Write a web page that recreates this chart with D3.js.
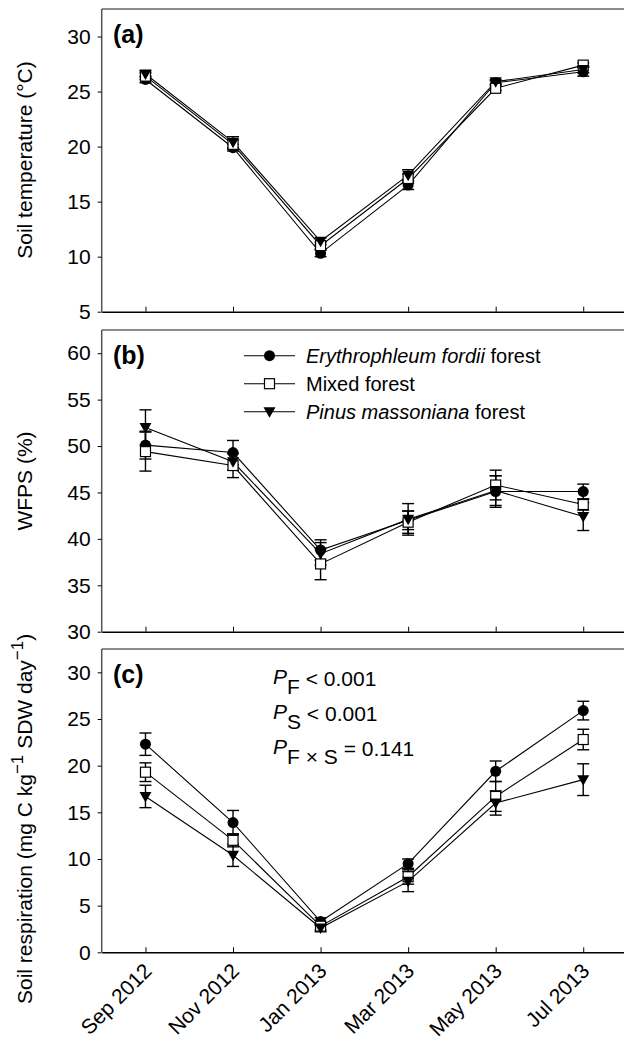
<!DOCTYPE html>
<html>
<head>
<meta charset="utf-8">
<script src="https://cdn.jsdelivr.net/npm/d3@7"></script>
<style>
  body { margin: 0; background: #fff; }
  svg { display: block; font-family: "Liberation Sans", Arial, Helvetica, sans-serif; }
</style>
</head>
<body>
<svg id="chart" width="624" height="1043"></svg>
<script>
var months = ["Sep 2012", "Nov 2012", "Jan 2013", "Mar 2013", "May 2013", "Jul 2013"];
var seriesNames = ["Erythrophleum fordii forest", "Mixed forest", "Pinus massoniana forest"];

// (a) soil temperature
var tempFordii   = [26.1, 19.9, 10.3, 16.5, 25.8, 26.8];
var tempFordiiSE = [0.3, 0.3, 0.3, 0.4, 0.2, 0.4];
var tempMixed    = [26.4, 20.2, 11.0, 17.1, 25.3, 27.4];
var tempMixedSE  = [0.3, 0.4, 0.3, 0.4, 0.2, 0.2];
var tempPinus    = [26.6, 20.4, 11.4, 17.4, 25.9, 27.0];
var tempPinusSE  = [0.3, 0.5, 0.3, 0.5, 0.2, 0.3];

// (b) WFPS
var wfpsFordii   = [50.1, 49.3, 38.8, 42.0, 45.1, 45.1];
var wfpsFordiiSE = [1.5, 1.3, 1.1, 1.0, 1.7, 0.8];
var wfpsMixed    = [49.4, 47.9, 37.3, 41.8, 45.8, 43.7];
var wfpsMixedSE  = [2.1, 1.3, 1.7, 1.2, 1.6, 0.6];
var wfpsPinus    = [52.0, 48.3, 38.4, 42.1, 45.2, 42.4];
var wfpsPinusSE  = [1.9, 0.9, 1.2, 1.7, 1.6, 1.5];

// (c) soil respiration
var respFordii   = [22.3, 13.9, 3.3, 9.5, 19.4, 25.9];
var respFordiiSE = [1.2, 1.3, 0.4, 0.5, 1.1, 1.0];
var respMixed    = [19.3, 12.0, 2.8, 8.1, 16.7, 22.8];
var respMixedSE  = [1.0, 0.7, 0.4, 0.8, 1.6, 1.1];
var respPinus    = [16.7, 10.4, 2.6, 7.6, 16.0, 18.5];
var respPinusSE  = [1.2, 1.2, 0.4, 1.1, 1.3, 1.7];

var tempTicks = [5, 10, 15, 20, 25, 30];
var wfpsTicks = [30, 35, 40, 45, 50, 55, 60];
var respTicks = [0, 5, 10, 15, 20, 25, 30];

var svg = d3.select("#chart");
var left = 101.7, right = 627;

var x = d3.scalePoint().domain(months).range([left, right]).padding(0.5);

function pack(vals, ses) {
  return vals.map(function(v, i) { return { m: months[i], v: v, se: ses[i] }; });
}

var panels = [
  { tag: "(a)", top: 9, bottom: 311.7, domain: [5, 32.5], ticks: tempTicks,
    series: [pack(tempFordii, tempFordiiSE), pack(tempMixed, tempMixedSE), pack(tempPinus, tempPinusSE)] },
  { tag: "(b)", top: 330, bottom: 631.7, domain: [30, 62.5], ticks: wfpsTicks, legend: true,
    series: [pack(wfpsFordii, wfpsFordiiSE), pack(wfpsMixed, wfpsMixedSE), pack(wfpsPinus, wfpsPinusSE)] },
  { tag: "(c)", top: 649, bottom: 952.3, domain: [0, 32.5], ticks: respTicks, xlabels: true, stats: true,
    series: [pack(respFordii, respFordiiSE), pack(respMixed, respMixedSE), pack(respPinus, respPinusSE)] }
];

function drawMarker(sel, k) {
  if (k == 0) {
    sel.append("circle").attr("r", 5.5).attr("fill", "#000");
  } else if (k == 1) {
    sel.append("rect").attr("x", -5).attr("y", -5).attr("width", 10).attr("height", 10)
      .attr("fill", "#fff").attr("stroke", "#000").attr("stroke-width", 1.2);
  } else {
    sel.append("path").attr("d", "M-6,-4.5L6,-4.5L0,6Z").attr("fill", "#000");
  }
}

panels.forEach(function(p) {
  var y = d3.scaleLinear().domain(p.domain).range([p.bottom, p.top]);
  var g = svg.append("g");

  // frame
  g.append("line").attr("x1", left).attr("x2", 624).attr("y1", p.top).attr("y2", p.top)
    .attr("stroke", "#666").attr("stroke-width", 1.5);
  g.append("line").attr("x1", left).attr("x2", left).attr("y1", p.top).attr("y2", p.bottom)
    .attr("stroke", "#555").attr("stroke-width", 1.5);

  var ya = g.append("g").attr("transform", "translate(" + left + ",0)")
    .call(d3.axisLeft(y).tickValues(p.ticks).tickSize(4).tickPadding(7));
  ya.select(".domain").remove();
  ya.selectAll("text").attr("font-size", 21).attr("fill", "#000").attr("font-family", null);
  ya.selectAll("line").attr("stroke", "#000");

  var xa = g.append("g").attr("transform", "translate(0," + p.bottom + ")")
    .call(d3.axisBottom(x).tickSizeInner(-5).tickSizeOuter(0).tickFormat(""));
  xa.select(".domain").attr("stroke", "#000").attr("stroke-width", 1.5);
  xa.selectAll("line").attr("stroke", "#000");

  if (p.xlabels) {
    g.selectAll(".xl").data(months).enter().append("text")
      .attr("transform", function(d) { return "translate(" + (x(d) + 7.5) + "," + (p.bottom + 20) + ") rotate(-45)"; })
      .attr("text-anchor", "end").attr("font-size", 21).text(function(d) { return d; });
  }

  g.append("text").attr("x", 113).attr("y", p.top + 34).attr("font-size", 25)
    .attr("font-weight", "bold").text(p.tag);

  var line = d3.line().x(function(d) { return x(d.m); }).y(function(d) { return y(d.v); });

  p.series.forEach(function(s) {
    g.append("path").datum(s).attr("d", line).attr("fill", "none")
      .attr("stroke", "#000").attr("stroke-width", 1.1);
  });

  p.series.forEach(function(s) {
    var eb = g.selectAll(null).data(s).enter().append("g")
      .attr("stroke", "#000").attr("stroke-width", 1.4);
    eb.append("line").attr("x1", function(d) { return x(d.m); }).attr("x2", function(d) { return x(d.m); })
      .attr("y1", function(d) { return y(d.v - d.se); }).attr("y2", function(d) { return y(d.v + d.se); });
    eb.append("line").attr("x1", function(d) { return x(d.m) - 6; }).attr("x2", function(d) { return x(d.m) + 6; })
      .attr("y1", function(d) { return y(d.v + d.se); }).attr("y2", function(d) { return y(d.v + d.se); });
    eb.append("line").attr("x1", function(d) { return x(d.m) - 6; }).attr("x2", function(d) { return x(d.m) + 6; })
      .attr("y1", function(d) { return y(d.v - d.se); }).attr("y2", function(d) { return y(d.v - d.se); });
  });

  p.series.forEach(function(s, k) {
    g.selectAll(null).data(s).enter().append("g")
      .attr("transform", function(d) { return "translate(" + x(d.m) + "," + y(d.v) + ")"; })
      .each(function() { drawMarker(d3.select(this), k); });
  });

  if (p.legend) {
    seriesNames.forEach(function(name, k) {
      var ly = 355.7 + k * 28;
      var lg = g.append("g");
      lg.append("line").attr("x1", 244).attr("x2", 295).attr("y1", ly).attr("y2", ly)
        .attr("stroke", "#000").attr("stroke-width", 1.1);
      var mk = lg.append("g").attr("transform", "translate(269.5," + ly + ")");
      drawMarker(mk, k);
      var t = lg.append("text").attr("x", 306).attr("y", ly + 7.5).attr("font-size", 20);
      if (k == 0) {
        t.append("tspan").attr("font-style", "italic").text("Erythrophleum fordii");
        t.append("tspan").text(" forest");
      } else if (k == 1) {
        t.text(name);
      } else {
        t.append("tspan").attr("font-style", "italic").text("Pinus massoniana");
        t.append("tspan").text(" forest");
      }
    });
  }

  if (p.stats) {
    var rows = [["F", " < 0.001"], ["S", " < 0.001"], ["F \u00d7 S", " = 0.141"]];
    rows.forEach(function(r, i) {
      var t = g.append("text").attr("x", 273).attr("y", 684 + i * 35).attr("font-size", 21);
      t.append("tspan").attr("font-style", "italic").text("P");
      t.append("tspan").attr("dy", 10).text(r[0]);
      t.append("tspan").attr("dy", -8).text(r[1]);
    });
  }
});

// y axis titles
svg.append("text").attr("transform", "translate(32,160) rotate(-90)")
  .attr("text-anchor", "middle").attr("font-size", 21).text("Soil temperature (\u00b0C)");
svg.append("text").attr("transform", "translate(32,481) rotate(-90)")
  .attr("text-anchor", "middle").attr("font-size", 21).text("WFPS (%)");
var rt = svg.append("text").attr("transform", "translate(32,1004) rotate(-90)")
  .attr("text-anchor", "start").attr("font-size", 21);
rt.append("tspan").text("Soil respiration (mg C kg");
rt.append("tspan").attr("dy", -9).attr("font-size", 17).text("\u22121");
rt.append("tspan").attr("dy", 9).text(" SDW day");
rt.append("tspan").attr("dy", -9).attr("font-size", 17).text("\u22121");
rt.append("tspan").attr("dy", 9).text(")");
</script>
</body>
</html>
